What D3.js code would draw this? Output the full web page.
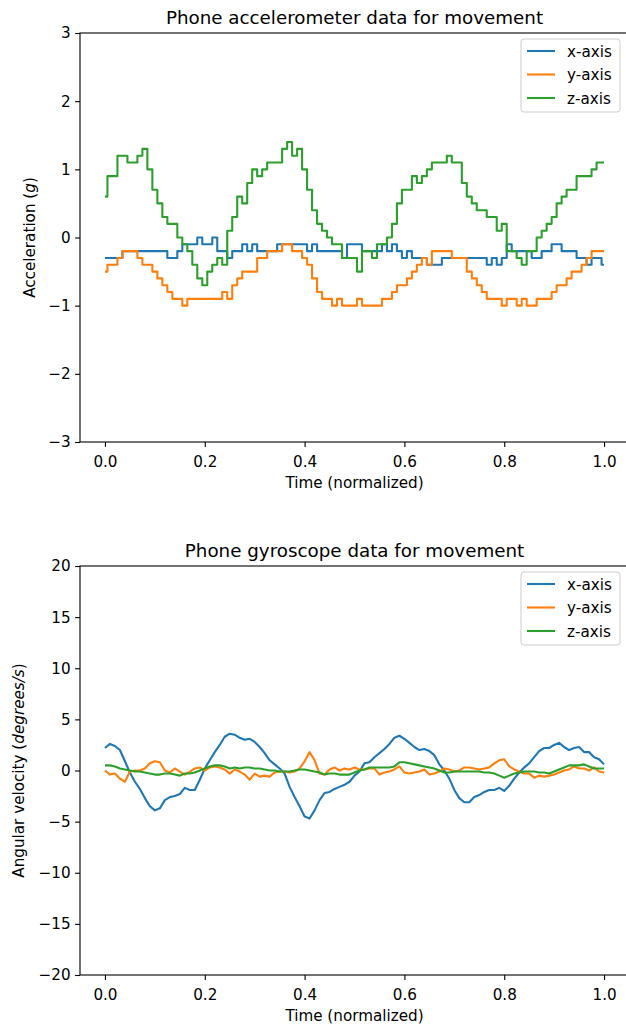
<!DOCTYPE html>
<html>
<head>
<meta charset="utf-8">
<script src="https://cdn.jsdelivr.net/npm/d3@7"></script>
<style>
  body { margin: 0; background: #fff; }
  svg { display: block; font-family: "DejaVu Sans", sans-serif; }
</style>
</head>
<body>
<script>
// normalized time, 101 samples
const time = d3.range(101).map(i => i / 100);

// accelerometer (g)
const accX = [-0.3,-0.3,-0.3,-0.3,-0.2,-0.2,-0.2,-0.2,-0.2,-0.2,
  -0.2,-0.2,-0.2,-0.3,-0.3,-0.2,-0.1,-0.1,-0.1,0.0,
  -0.1,-0.1,0.0,-0.2,-0.2,-0.3,-0.2,-0.2,-0.1,-0.2,
  -0.1,-0.2,-0.2,-0.2,-0.2,-0.1,-0.1,-0.1,-0.1,-0.1,
  -0.1,-0.2,-0.1,-0.2,-0.2,-0.2,-0.2,-0.2,-0.3,-0.1,
  -0.1,-0.1,-0.2,-0.2,-0.2,-0.2,-0.1,-0.2,-0.1,-0.2,
  -0.3,-0.2,-0.3,-0.3,-0.3,-0.4,-0.4,-0.4,-0.3,-0.3,
  -0.3,-0.3,-0.3,-0.3,-0.3,-0.3,-0.3,-0.4,-0.3,-0.4,
  -0.3,-0.1,-0.2,-0.2,-0.2,-0.2,-0.3,-0.3,-0.2,-0.2,
  -0.1,-0.1,-0.2,-0.2,-0.2,-0.3,-0.3,-0.4,-0.3,-0.3,
  -0.4];
const accY = [-0.5,-0.4,-0.4,-0.3,-0.2,-0.2,-0.2,-0.3,-0.4,-0.4,
  -0.5,-0.6,-0.7,-0.8,-0.9,-0.9,-1.0,-0.9,-0.9,-0.9,
  -0.9,-0.9,-0.9,-0.9,-0.8,-0.9,-0.7,-0.6,-0.5,-0.5,
  -0.5,-0.3,-0.3,-0.2,-0.2,-0.2,-0.1,-0.1,-0.2,-0.2,
  -0.3,-0.4,-0.6,-0.8,-0.9,-0.9,-1.0,-0.9,-1.0,-1.0,
  -1.0,-0.9,-1.0,-1.0,-1.0,-1.0,-0.9,-0.9,-0.8,-0.7,
  -0.7,-0.6,-0.5,-0.4,-0.3,-0.4,-0.2,-0.2,-0.2,-0.2,
  -0.3,-0.3,-0.3,-0.5,-0.6,-0.7,-0.8,-0.9,-0.9,-0.9,
  -1.0,-0.9,-0.9,-1.0,-0.9,-1.0,-1.0,-0.9,-0.9,-0.9,
  -0.8,-0.7,-0.7,-0.6,-0.5,-0.5,-0.4,-0.3,-0.2,-0.2,
  -0.2];
const accZ = [0.6,0.9,0.9,1.2,1.2,1.1,1.1,1.2,1.3,1.0,
  0.7,0.5,0.3,0.2,0.2,0.0,-0.1,-0.2,-0.4,-0.6,
  -0.7,-0.5,-0.4,-0.3,-0.4,0.1,0.3,0.6,0.5,0.8,
  1.0,0.9,1.0,1.1,1.1,1.1,1.3,1.4,1.2,1.3,
  1.0,0.7,0.4,0.2,0.1,0.0,-0.1,-0.1,-0.3,-0.3,
  -0.3,-0.5,-0.2,-0.2,-0.3,-0.1,-0.1,0.0,0.2,0.5,
  0.7,0.7,0.9,0.8,0.9,1.0,1.1,1.1,1.1,1.2,
  1.1,1.1,0.8,0.6,0.5,0.4,0.4,0.3,0.3,0.1,
  0.2,-0.2,-0.2,-0.3,-0.4,-0.2,-0.2,0.0,0.1,0.2,
  0.3,0.5,0.6,0.7,0.7,0.9,0.9,0.9,1.0,1.1,
  1.1];

// gyroscope (degrees/s)
const gyroX = [2.2,2.6,2.4,2.0,0.9,-0.2,-1.1,-1.8,-2.7,-3.5,
  -3.9,-3.7,-2.9,-2.6,-2.5,-2.3,-1.7,-1.9,-1.9,-0.9,
  0.2,1.0,1.8,2.5,3.3,3.6,3.5,3.2,3.0,3.1,
  2.8,2.3,1.7,1.0,0.6,0.2,-0.3,-1.6,-2.6,-3.5,
  -4.5,-4.7,-3.9,-2.9,-2.2,-2.1,-1.8,-1.6,-1.4,-1.1,
  -0.5,-0.1,0.7,0.8,1.3,1.7,2.1,2.6,3.2,3.4,
  3.1,2.7,2.3,2.0,2.1,1.9,1.5,0.6,0.0,-0.8,
  -1.9,-2.7,-3.1,-3.1,-2.6,-2.4,-2.1,-1.9,-1.9,-1.7,
  -2.0,-1.5,-0.8,-0.2,0.3,0.7,1.3,1.9,2.2,2.2,
  2.5,2.7,2.3,2.0,2.2,2.3,1.8,1.8,1.3,1.1,
  0.6];
const gyroY = [0.0,-0.4,-0.3,-0.8,-1.1,-0.1,0.0,0.0,0.2,0.7,
  0.9,0.8,0.0,-0.2,0.2,-0.1,-0.4,-0.1,0.2,0.3,
  0.0,0.3,0.4,0.3,0.1,-0.3,0.1,-0.1,-0.4,-0.9,
  -0.3,-0.6,-0.5,-0.6,-0.2,-0.1,-0.1,-0.2,-0.1,0.2,
  0.9,1.8,1.0,-0.3,-0.4,0.1,0.3,0.0,0.2,0.1,
  0.3,0.1,0.1,0.2,0.2,-0.4,-0.2,-0.1,0.1,0.4,
  -0.2,-0.3,-0.2,-0.1,0.1,-0.4,-0.3,-0.1,0.2,0.1,
  -0.1,0.0,0.3,0.3,0.2,0.1,0.2,0.3,0.7,1.0,
  1.1,0.4,0.1,-0.1,-0.3,-0.3,-0.7,-0.5,-0.6,-0.5,
  -0.4,-0.2,0.0,0.1,0.4,0.2,0.2,0.0,0.3,-0.1,
  -0.2];
const gyroZ = [0.5,0.5,0.4,0.2,0.1,0.0,-0.1,-0.1,-0.2,-0.3,
  -0.4,-0.4,-0.3,-0.3,-0.4,-0.5,-0.3,-0.3,-0.2,0.0,
  0.2,0.4,0.5,0.5,0.4,0.2,0.3,0.2,0.3,0.3,
  0.2,0.2,0.1,0.0,0.0,-0.1,-0.1,-0.1,0.0,0.1,
  0.1,0.0,-0.1,-0.2,-0.4,-0.3,-0.3,-0.4,-0.4,-0.4,
  -0.2,0.0,0.1,0.3,0.3,0.3,0.3,0.3,0.4,0.8,
  0.8,0.7,0.6,0.5,0.4,0.3,0.2,0.0,-0.2,-0.2,
  -0.1,-0.1,-0.1,-0.1,-0.1,-0.1,-0.2,-0.2,-0.3,-0.5,
  -0.7,-0.5,-0.3,-0.2,-0.1,-0.1,-0.1,-0.2,-0.2,-0.3,
  -0.1,0.1,0.3,0.5,0.5,0.5,0.6,0.4,0.2,0.2,
  0.2];

const seriesNames = ['x-axis', 'y-axis', 'z-axis'];
const colors = ['#1f77b4', '#ff7f0e', '#2ca02c'];
const timeTicks = [0, 0.2, 0.4, 0.6, 0.8, 1.0];
const accTicks = [-3, -2, -1, 0, 1, 2, 3];
const gyroTicks = [-20, -15, -10, -5, 0, 5, 10, 15, 20];

let w = 626,
  h = 1028,
  left = 80,
  right = 629,
  tickLen = 4.9,
  font = 15.2;

let svg = d3.select('body')
  .append('svg')
  .attr('width', w)
  .attr('height', h);

let xScale = d3.scaleLinear()
  .domain([-0.05, 1.05])
  .range([left, right]);

function panel(top, bottom, yTicks, title, label, labelItalic, labelX, curve, series) {
  let yScale = d3.scaleLinear()
    .domain([yTicks[0], yTicks[yTicks.length - 1]])
    .range([bottom, top]);

  let g = svg.append('g');

  // lines
  let line = d3.line()
    .x((d, i) => xScale(time[i]))
    .y(d => yScale(d))
    .curve(curve);

  series.forEach((s, i) => {
    g.append('path')
      .datum(s)
      .attr('d', line)
      .attr('fill', 'none')
      .attr('stroke', colors[i])
      .attr('stroke-width', 2.1)
      .attr('stroke-linejoin', 'round');
  });

  // spines
  g.append('rect')
    .attr('x', left)
    .attr('y', top)
    .attr('width', right - left)
    .attr('height', bottom - top)
    .attr('fill', 'none')
    .attr('stroke', '#000')
    .attr('stroke-width', 1.1);

  let xAxis = g.append('g')
    .attr('transform', `translate(0,${bottom})`)
    .call(d3.axisBottom(xScale).tickValues(timeTicks).tickFormat(d3.format('.1f'))
      .tickSize(tickLen).tickPadding(9));
  let yAxis = g.append('g')
    .attr('transform', `translate(${left},0)`)
    .call(d3.axisLeft(yScale).tickValues(yTicks).tickFormat(d3.format('d'))
      .tickSize(tickLen).tickPadding(4.5));

  [xAxis, yAxis].forEach(a => {
    a.select('.domain').remove();
    a.selectAll('line').attr('stroke', '#000').attr('stroke-width', 1.1);
    a.selectAll('text')
      .attr('font-family', 'DejaVu Sans')
      .attr('font-size', font + 'px')
      .attr('fill', '#000');
  });
  xAxis.selectAll('text').attr('dy', '0.76em');

  // title
  g.append('text')
    .attr('x', (left + right) / 2)
    .attr('y', top - 9)
    .attr('text-anchor', 'middle')
    .attr('font-size', '18.3px')
    .text(title);

  // axis labels
  g.append('text')
    .attr('x', (left + right) / 2)
    .attr('y', bottom + 46)
    .attr('text-anchor', 'middle')
    .attr('font-size', font + 'px')
    .text('Time (normalized)');

  let yl = g.append('text')
    .attr('transform', `translate(${labelX},${(top + bottom) / 2}) rotate(-90)`)
    .attr('text-anchor', 'middle')
    .attr('font-size', font + 'px');
  yl.append('tspan').text(label + ' (');
  yl.append('tspan').attr('font-style', 'italic').text(labelItalic);
  yl.append('tspan').text(')');

  // legend
  let lx = 521,
    ly = top + 6;
  let leg = g.append('g').attr('transform', `translate(${lx},${ly})`);
  leg.append('rect')
    .attr('width', 99)
    .attr('height', 73)
    .attr('rx', 3)
    .attr('fill', '#fff')
    .attr('fill-opacity', 0.8)
    .attr('stroke', '#cccccc')
    .attr('stroke-width', 1);
  seriesNames.forEach((name, i) => {
    let cy = 12 + i * 23.5;
    leg.append('line')
      .attr('x1', 6).attr('x2', 34)
      .attr('y1', cy).attr('y2', cy)
      .attr('stroke', colors[i])
      .attr('stroke-width', 2.1);
    leg.append('text')
      .attr('x', 46)
      .attr('y', cy + 5.5)
      .attr('font-size', font + 'px')
      .text(name);
  });
}

panel(33, 442, accTicks, 'Phone accelerometer data for movement',
  'Acceleration', 'g', 35, d3.curveStep, [accX, accY, accZ]);

panel(566, 975, gyroTicks, 'Phone gyroscope data for movement',
  'Angular velocity', 'degrees/s', 24, d3.curveLinear, [gyroX, gyroY, gyroZ]);
</script>
</body>
</html>
